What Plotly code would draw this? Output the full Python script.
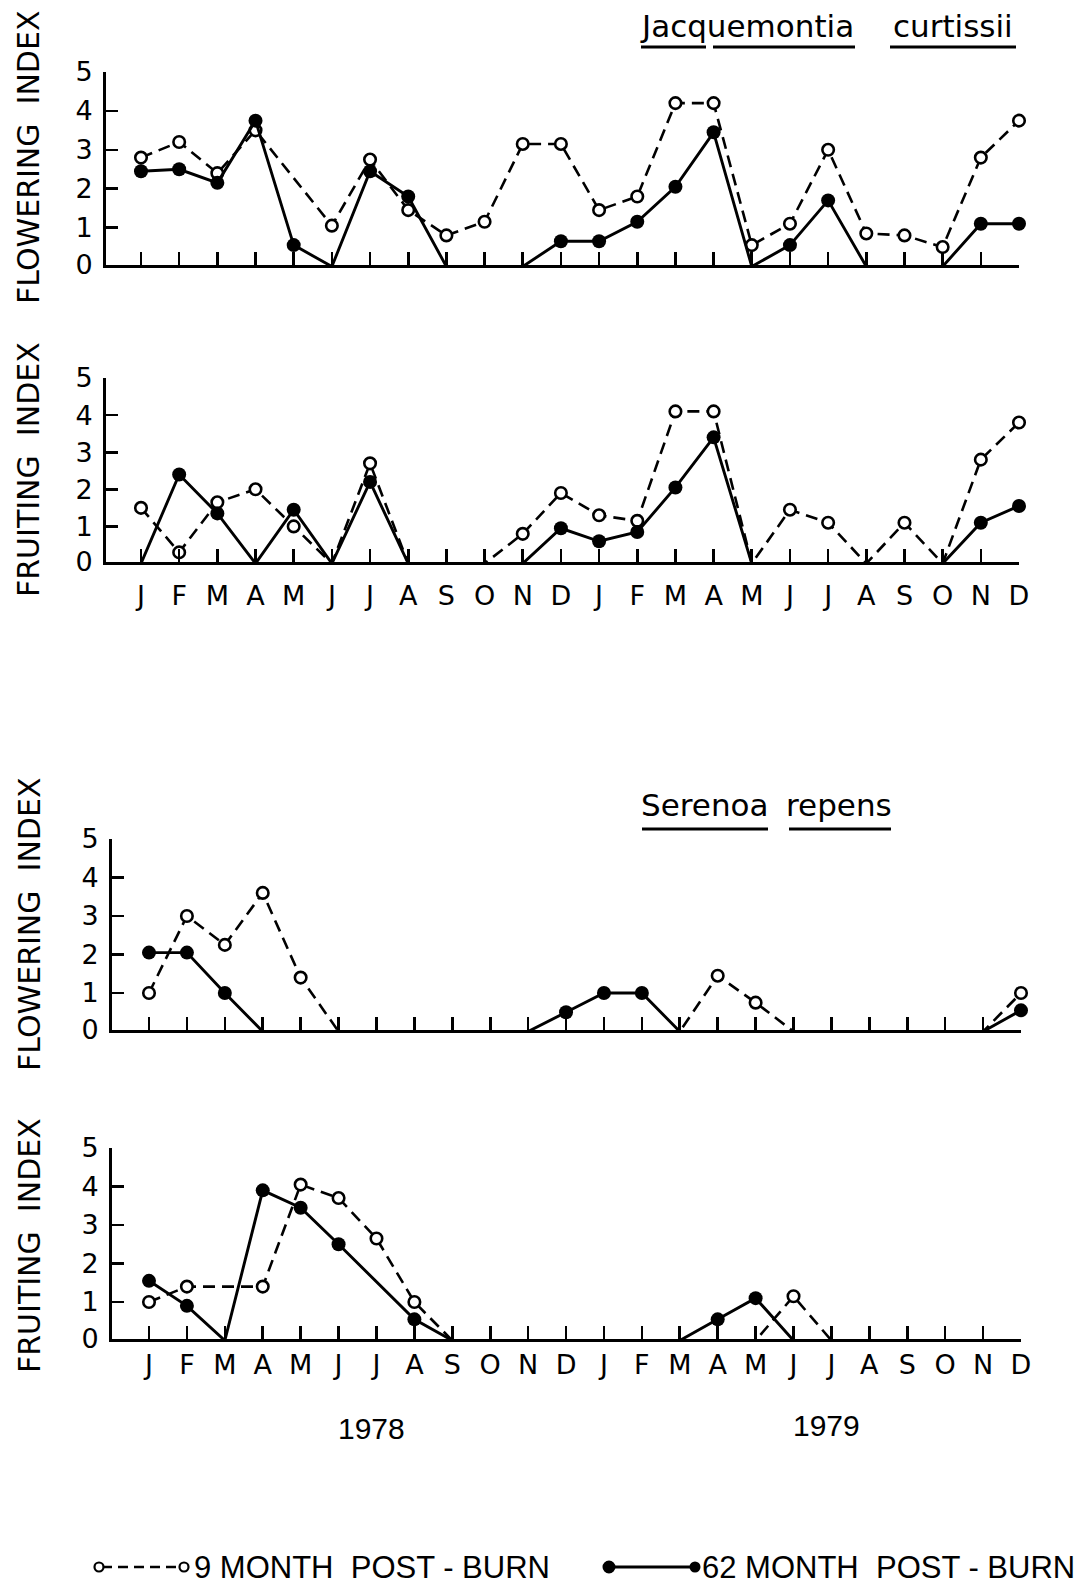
import plotly.graph_objects as go

W, H = 1082, 1585

# ---------------- data ----------------
months = ["J", "F", "M", "A", "M", "J", "J", "A", "S", "O", "N", "D"] * 2
month_idx = list(range(24))  # Jan 1978 ... Dec 1979
y_tick_labels = ["0", "1", "2", "3", "4", "5"]
years = ["1978", "1979"]
series_names = ["9 MONTH POST-BURN", "62 MONTH POST-BURN"]

# Jacquemontia curtissii
jac_flower_9 = [2.8, 3.2, 2.4, 3.5, None, 1.05, 2.75, 1.45, 0.8, 1.15, 3.15, 3.15,
                1.45, 1.8, 4.2, 4.2, 0.55, 1.1, 3.0, 0.85, 0.8, 0.5, 2.8, 3.75]
jac_flower_62 = [2.45, 2.5, 2.15, 3.75, 0.55, 0, 2.45, 1.8, 0, 0, 0, 0.65,
                 0.65, 1.15, 2.05, 3.45, 0, 0.55, 1.7, 0, 0, 0, 1.1, 1.1]
jac_fruit_9 = [1.5, 0.3, 1.65, 2.0, 1.0, 0, 2.7, 0, 0, 0, 0.8, 1.9,
               1.3, 1.15, 4.1, 4.1, 0, 1.45, 1.1, 0, 1.1, 0, 2.8, 3.8]
jac_fruit_62 = [0, 2.4, 1.35, 0, 1.45, 0, 2.2, 0, 0, 0, 0, 0.95,
                0.6, 0.85, 2.05, 3.4, 0, 0, 0, 0, 0, 0, 1.1, 1.55]

# Serenoa repens
ser_flower_9 = [1.0, 3.0, 2.25, 3.6, 1.4, 0, 0, 0, 0, 0, 0, 0,
                0, 0, 0, 1.45, 0.75, 0, 0, 0, 0, 0, 0, 1.0]
ser_flower_62 = [2.05, 2.05, 1.0, 0, 0, 0, 0, 0, 0, 0, 0, 0.5,
                 1.0, 1.0, 0, 0, 0, 0, 0, 0, 0, 0, 0, 0.55]
ser_fruit_9 = [1.0, 1.4, None, 1.4, 4.05, 3.7, 2.65, 1.0, 0, 0, 0, 0,
               0, 0, 0, 0, 0, 1.15, 0, 0, 0, 0, 0, 0]
ser_fruit_62 = [1.55, 0.9, 0, 3.9, 3.45, 2.5, None, 0.55, 0, 0, 0, 0,
                0, 0, 0, 0.55, 1.1, 0, 0, 0, 0, 0, 0, 0]

# ---------------- layout geometry (pixels) ----------------
panels = [
    dict(d9=jac_flower_9, d62=jac_flower_62, title="FLOWERING\u00a0 INDEX", labels=False,
         xl=106, xj=141, xr=1019, top=72, bot=265, tcy=158, standoff=8),
    dict(d9=jac_fruit_9, d62=jac_fruit_62, title="FRUITING\u00a0 INDEX", labels=True,
         xl=106, xj=141, xr=1019, top=378, bot=562, tcy=470, standoff=8),
    dict(d9=ser_flower_9, d62=ser_flower_62, title="FLOWERING\u00a0 INDEX", labels=False,
         xl=112, xj=149, xr=1021, top=839, bot=1030, tcy=925, standoff=8),
    dict(d9=ser_fruit_9, d62=ser_fruit_62, title="FRUITING\u00a0 INDEX", labels=True,
         xl=112, xj=149, xr=1021, top=1148, bot=1339, tcy=1246, standoff=0),
]


def px(x):
    return x / W


def py(y):
    return 1 - y / H


fig = go.Figure()
layout = {}
annotations = []
shapes = []

for i, p in enumerate(panels):
    n = "" if i == 0 else str(i + 1)
    xa, ya = "x" + n, "y" + n
    unit_x = (p["xr"] - p["xj"]) / 23.0
    xr0 = -(p["xj"] - p["xl"]) / unit_x
    unit_y = (p["bot"] - p["top"]) / 5.0
    yr0 = 1.5 / unit_y  # puts value 0 on the centre of the axis line

    for vals, is9 in ((p["d9"], True), (p["d62"], False)):
        opac = [0 if (v is None or v == 0) else 1 for v in vals]
        if is9:
            line = dict(color="black", width=2.6, dash="12px,7px")
            marker = dict(symbol="circle", size=11.5, color="white", opacity=opac,
                          line=dict(color="black", width=2.6))
            name = series_names[0]
        else:
            line = dict(color="black", width=2.9)
            marker = dict(symbol="circle", size=14, color="black", opacity=opac,
                          line=dict(color="black", width=0))
            name = series_names[1]
        fig.add_trace(go.Scatter(
            x=month_idx, y=vals, mode="lines+markers", line=line, marker=marker,
            connectgaps=True, cliponaxis=False, showlegend=False, name=name,
            xaxis=xa, yaxis=ya, hoverinfo="skip"))

    layout["xaxis" + n] = dict(
        domain=[px(p["xl"]), px(p["xr"])], range=[xr0, 23], anchor=ya,
        showline=True, linecolor="black", linewidth=3, mirror=False,
        ticks="inside", ticklen=13, tickwidth=2.6, tickcolor="black",
        tickmode="array", tickvals=month_idx, ticktext=months,
        showticklabels=p["labels"], ticklabelstandoff=p["standoff"], automargin=False,
        tickfont=dict(family="DejaVu Sans", size=27, color="black"),
        showgrid=False, zeroline=False, fixedrange=True)
    layout["yaxis" + n] = dict(
        domain=[py(p["bot"]), py(p["top"])], range=[yr0, 5], anchor=xa,
        showline=True, linecolor="black", linewidth=3,
        ticks="inside", ticklen=12, tickwidth=2.6, tickcolor="black",
        tickmode="array", tickvals=[yr0, 1, 2, 3, 4, 5], ticktext=y_tick_labels,
        ticklabelstandoff=5, automargin=False,
        tickfont=dict(family="DejaVu Sans", size=27, color="black"),
        showgrid=False, zeroline=False, fixedrange=True)

    annotations.append(dict(
        text=p["title"], x=px(29), y=py(p["tcy"]), xref="paper", yref="paper",
        textangle=-90, showarrow=False, xanchor="center", yanchor="middle",
        font=dict(family="DejaVu Sans", size=30, color="black")))

# species titles (with underlines)
title_font = dict(family="DejaVu Sans", size=31, color="black")
for word, cx, cy in (("Jacquemontia", 747, 26), ("curtissii", 953, 26),
                     ("Serenoa", 705, 805), ("repens", 839, 805)):
    annotations.append(dict(text=word, x=px(cx), y=py(cy), xref="paper", yref="paper",
                            showarrow=False, xanchor="center", yanchor="middle",
                            font=title_font))
for x0, x1, yy in ((641, 706, 47), (713, 855, 47), (890, 1016, 47),
                   (642, 768, 829), (789, 891, 829)):
    shapes.append(dict(type="line", xref="paper", yref="paper",
                       x0=px(x0), x1=px(x1), y0=py(yy), y1=py(yy),
                       line=dict(color="black", width=3.2)))

# year labels
year_font = dict(family="Liberation Sans", size=30, color="black")
for yr, cx, cy in ((years[0], 371, 1428), (years[1], 826, 1425)):
    annotations.append(dict(text=yr, x=px(cx), y=py(cy), xref="paper", yref="paper",
                            showarrow=False, xanchor="center", yanchor="middle",
                            font=year_font))

# legend (key symbols + text)
leg_y = 1567
leg_font = dict(family="Liberation Sans", size=31, color="black")
shapes.append(dict(type="line", xref="paper", yref="paper", x0=px(102), x1=px(182),
                   y0=py(leg_y), y1=py(leg_y),
                   line=dict(color="black", width=2.5, dash="10px,6px")))
for cx in (99, 184):
    r = 4.5
    shapes.append(dict(type="circle", xref="paper", yref="paper",
                       x0=px(cx - r), x1=px(cx + r), y0=py(leg_y - r), y1=py(leg_y + r),
                       fillcolor="white", line=dict(color="black", width=2.2)))
annotations.append(dict(text="9 MONTH\u00a0 POST - BURN", x=px(192), y=py(leg_y),
                        xref="paper", yref="paper", showarrow=False,
                        xanchor="left", yanchor="middle", font=leg_font))
shapes.append(dict(type="line", xref="paper", yref="paper", x0=px(610), x1=px(694),
                   y0=py(leg_y), y1=py(leg_y), line=dict(color="black", width=3)))
for cx, r in ((609, 6.5), (695, 5.5)):
    shapes.append(dict(type="circle", xref="paper", yref="paper",
                       x0=px(cx - r), x1=px(cx + r), y0=py(leg_y - r), y1=py(leg_y + r),
                       fillcolor="black", line=dict(color="black", width=0)))
annotations.append(dict(text="62 MONTH\u00a0 POST - BURN", x=px(700), y=py(leg_y),
                        xref="paper", yref="paper", showarrow=False,
                        xanchor="left", yanchor="middle", font=leg_font))

fig.update_layout(
    width=W, height=H,
    margin=dict(l=0, r=0, t=0, b=0, pad=0, autoexpand=False),
    paper_bgcolor="white", plot_bgcolor="rgba(0,0,0,0)",
    showlegend=False, annotations=annotations, shapes=shapes,
    font=dict(family="DejaVu Sans", color="black"),
    **layout)

fig.write_html("out.html", include_plotlyjs=True, full_html=True,
               config={"displayModeBar": False, "staticPlot": True})
